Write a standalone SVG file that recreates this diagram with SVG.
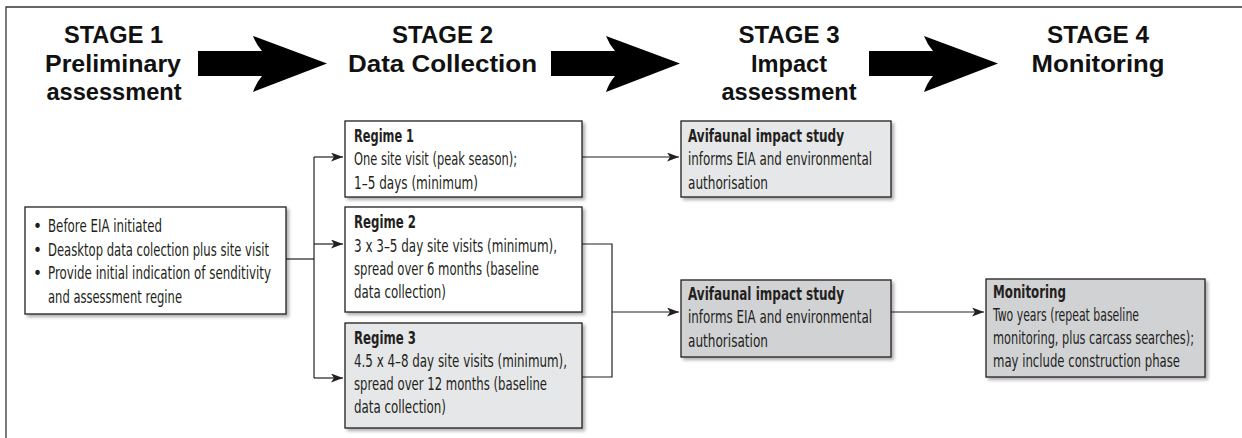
<svg xmlns="http://www.w3.org/2000/svg" width="1242" height="438" viewBox="0 0 1242 438">
<style>
.hd{font-family:"Liberation Sans",Arial,sans-serif;font-weight:700;font-size:23px;fill:#111;text-anchor:middle}
.bx{stroke:#231f20;stroke-width:1.3;filter:url(#sh)}
.t{font-family:"Liberation Sans Narrow","DejaVu Sans Condensed","Liberation Sans",sans-serif;font-size:17px;fill:#231f20}
.b{font-weight:700}
.c{fill:none;stroke:#231f20;stroke-width:1.2}
.big{fill:#000}
</style>
<defs>
<filter id="sh" x="-10%" y="-10%" width="130%" height="130%">
<feDropShadow dx="2.5" dy="2.5" stdDeviation="1.5" flood-color="#000" flood-opacity="0.3"/>
</filter>
<marker id="ah" markerUnits="userSpaceOnUse" markerWidth="13" markerHeight="9" refX="12" refY="4.5" orient="auto">
<path d="M0,0 L12,4.5 L0,9 L3,4.5 Z" fill="#231f20"/>
</marker>
<path id="bigArrow" d="M0,51 H64 Q58,44 55,36 L129,63.5 L55,92 Q58,83 64,76 H0 Z"/>
</defs>
<rect width="1242" height="438" fill="#fff"/>
<path d="M6,438 V7 H1242" fill="none" stroke="#333" stroke-width="1.3"/>

<g id="header1">
<text class="hd" x="113.5" y="43" textLength="99" lengthAdjust="spacingAndGlyphs">STAGE 1</text>
<text class="hd" x="113" y="72" textLength="136" lengthAdjust="spacingAndGlyphs">Preliminary</text>
<text class="hd" x="114" y="100" textLength="135" lengthAdjust="spacingAndGlyphs">assessment</text>
</g>
<g id="header2">
<text class="hd" x="442.5" y="43" textLength="101" lengthAdjust="spacingAndGlyphs">STAGE 2</text>
<text class="hd" x="442.5" y="72" textLength="189" lengthAdjust="spacingAndGlyphs">Data Collection</text>
</g>
<g id="header3">
<text class="hd" x="789" y="43" textLength="101" lengthAdjust="spacingAndGlyphs">STAGE 3</text>
<text class="hd" x="789" y="72" textLength="76" lengthAdjust="spacingAndGlyphs">Impact</text>
<text class="hd" x="789" y="100" textLength="135" lengthAdjust="spacingAndGlyphs">assessment</text>
</g>
<g id="header4">
<text class="hd" x="1098" y="43" textLength="102" lengthAdjust="spacingAndGlyphs">STAGE 4</text>
<text class="hd" x="1098" y="72" textLength="133" lengthAdjust="spacingAndGlyphs">Monitoring</text>
</g>

<g id="stageArrows">
<use href="#bigArrow" class="big" x="198" y="0"/>
<use href="#bigArrow" class="big" x="551" y="0"/>
<use href="#bigArrow" class="big" x="869" y="0"/>
</g>

<g id="connectors">
<path class="c" d="M286,259 H314"/>
<path class="c" d="M314,157 V378"/>
<path class="c" d="M314,157 H343" marker-end="url(#ah)"/>
<path class="c" d="M314,244 H343" marker-end="url(#ah)"/>
<path class="c" d="M314,378 H343" marker-end="url(#ah)"/>
<path class="c" d="M582,157 H679" marker-end="url(#ah)"/>
<path class="c" d="M582,244 H612 V377 H582"/>
<path class="c" d="M612,312 H679" marker-end="url(#ah)"/>
<path class="c" d="M891,312 H984" marker-end="url(#ah)"/>
</g>

<g id="preliminary">
<rect class="bx" x="25" y="207" width="261" height="107" fill="#fff"/>
<text class="t" x="33" y="232">•</text>
<text class="t" x="33" y="256">•</text>
<text class="t" x="33" y="279">•</text>
<text class="t" x="48" y="232" textLength="114" lengthAdjust="spacingAndGlyphs">Before EIA initiated</text>
<text class="t" x="48" y="256" textLength="221" lengthAdjust="spacingAndGlyphs">Deasktop data colection plus site visit</text>
<text class="t" x="48" y="279" textLength="223" lengthAdjust="spacingAndGlyphs">Provide initial indication of senditivity</text>
<text class="t" x="48" y="303" textLength="134" lengthAdjust="spacingAndGlyphs">and assessment regine</text>
</g>

<g id="regime1">
<rect class="bx" x="345" y="121" width="237" height="76" fill="#fff"/>
<text class="t b" x="354" y="142" textLength="60" lengthAdjust="spacingAndGlyphs">Regime 1</text>
<text class="t" x="354" y="165" textLength="163" lengthAdjust="spacingAndGlyphs">One site visit (peak season);</text>
<text class="t" x="354" y="189" textLength="124" lengthAdjust="spacingAndGlyphs">1–5 days (minimum)</text>
</g>

<g id="regime2">
<rect class="bx" x="345" y="207" width="237" height="105" fill="#fff"/>
<text class="t b" x="354" y="228" textLength="62" lengthAdjust="spacingAndGlyphs">Regime 2</text>
<text class="t" x="354" y="252" textLength="203" lengthAdjust="spacingAndGlyphs">3 x 3–5 day site visits (minimum),</text>
<text class="t" x="354" y="275" textLength="185" lengthAdjust="spacingAndGlyphs">spread over 6 months (baseline</text>
<text class="t" x="354" y="298" textLength="92" lengthAdjust="spacingAndGlyphs">data collection)</text>
</g>

<g id="regime3">
<rect class="bx" x="345" y="323" width="237" height="105" fill="#e6e7e8"/>
<text class="t b" x="354" y="344" textLength="62" lengthAdjust="spacingAndGlyphs">Regime 3</text>
<text class="t" x="354" y="367" textLength="213" lengthAdjust="spacingAndGlyphs">4.5 x 4–8 day site visits (minimum),</text>
<text class="t" x="354" y="390" textLength="193" lengthAdjust="spacingAndGlyphs">spread over 12 months (baseline</text>
<text class="t" x="354" y="413" textLength="92" lengthAdjust="spacingAndGlyphs">data collection)</text>
</g>

<g id="impact1">
<rect class="bx" x="681" y="121" width="210" height="76" fill="#e6e7e8"/>
<text class="t b" x="688" y="142" textLength="156" lengthAdjust="spacingAndGlyphs">Avifaunal impact study</text>
<text class="t" x="688" y="165" textLength="184" lengthAdjust="spacingAndGlyphs">informs EIA and environmental</text>
<text class="t" x="688" y="189" textLength="80" lengthAdjust="spacingAndGlyphs">authorisation</text>
</g>

<g id="impact2">
<rect class="bx" x="681" y="280" width="210" height="77" fill="#d1d2d4"/>
<text class="t b" x="688" y="300" textLength="156" lengthAdjust="spacingAndGlyphs">Avifaunal impact study</text>
<text class="t" x="688" y="323" textLength="184" lengthAdjust="spacingAndGlyphs">informs EIA and environmental</text>
<text class="t" x="688" y="347" textLength="80" lengthAdjust="spacingAndGlyphs">authorisation</text>
</g>

<g id="monitoring">
<rect class="bx" x="986" y="279" width="219" height="98" fill="#d1d2d4"/>
<text class="t b" x="993" y="298" textLength="73" lengthAdjust="spacingAndGlyphs">Monitoring</text>
<text class="t" x="993" y="321" textLength="146" lengthAdjust="spacingAndGlyphs">Two years (repeat baseline</text>
<text class="t" x="993" y="344" textLength="201" lengthAdjust="spacingAndGlyphs">monitoring, plus carcass searches);</text>
<text class="t" x="993" y="367" textLength="187" lengthAdjust="spacingAndGlyphs">may include construction phase</text>
</g>
</svg>
